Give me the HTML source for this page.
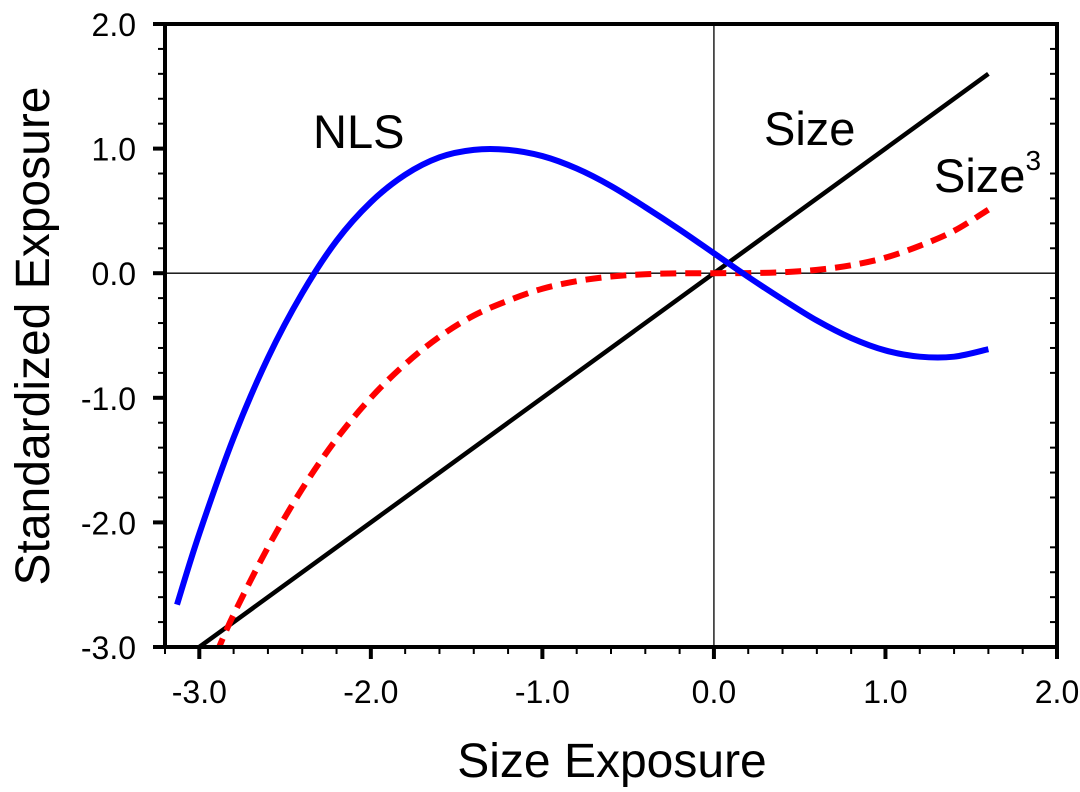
<!DOCTYPE html>
<html><head><meta charset="utf-8"><style>
body{margin:0;background:#fff;}
svg{display:block;font-family:"Liberation Sans",Arial,sans-serif;}
</style></head><body>
<svg id="chart" width="1080" height="792" viewBox="0 0 1080 792">
<defs><clipPath id="clip"><rect x="165" y="24" width="892" height="623"/></clipPath></defs>
<g id="grid"></g>
<g id="series" clip-path="url(#clip)"></g>
<g id="axes"></g>
<text x="612" y="777" font-size="48" text-anchor="middle">Size Exposure</text>
<text transform="translate(49,336) rotate(-90)" font-size="48" text-anchor="middle">Standardized Exposure</text>
<text x="313" y="148" font-size="47">NLS</text>
<text x="764" y="145" font-size="47">Size</text>
<text x="934" y="192" font-size="47">Size<tspan dy="-22" font-size="28">3</tspan></text>
</svg>
<script>
const xTicks=[-3,-2,-1,0,1,2];
const xTickLabels=["-3.0","-2.0","-1.0","0.0","1.0","2.0"];
const yTicks=[-3,-2,-1,0,1,2];
const yTickLabels=["-3.0","-2.0","-1.0","0.0","1.0","2.0"];
const sizeX=[-3.0,1.6];
const sizeY=[-3.0,1.6];
const nlsX=[-3.13,-3.0,-2.8,-2.6,-2.4,-2.2,-2.0,-1.8,-1.6,-1.4,-1.2,-1.0,-0.8,-0.6,-0.4,-0.2,0,0.2,0.4,0.6,0.8,1.0,1.2,1.4,1.6];
const nlsY=[-2.66,-2.09,-1.32,-0.68,-0.16,0.26,0.57,0.79,0.93,0.99,0.99,0.94,0.84,0.70,0.53,0.35,0.16,-0.03,-0.21,-0.38,-0.52,-0.62,-0.67,-0.67,-0.61];
const cubeX=[-2.9,-2.8,-2.6,-2.4,-2.2,-2.0,-1.8,-1.6,-1.4,-1.2,-1.0,-0.8,-0.6,-0.4,-0.2,0,0.2,0.4,0.6,0.8,1.0,1.2,1.4,1.6];
const cubeY=[-3.05,-2.74,-2.20,-1.73,-1.33,-1.0,-0.73,-0.51,-0.34,-0.22,-0.125,-0.064,-0.027,-0.008,-0.001,0,0.001,0.008,0.027,0.064,0.125,0.22,0.34,0.51];
const X0=165,X1=1057,Y0=647,Y1=24,xMin=-3.2,xMax=2.0,yMin=-3,yMax=2;
function sx(v){return X0+(v-xMin)/(xMax-xMin)*(X1-X0);}
function sy(v){return Y0-(v-yMin)/(yMax-yMin)*(Y0-Y1);}
const NS="http://www.w3.org/2000/svg";
function mk(t,a,p){const e=document.createElementNS(NS,t);for(const k in a)e.setAttribute(k,a[k]);p.appendChild(e);return e;}
const grid=document.getElementById('grid'),ser=document.getElementById('series'),ax=document.getElementById('axes');
let g=mk('line',{x1:X0,x2:X1,y1:sy(0),y2:sy(0),stroke:'#000','stroke-width':1.3},grid);


g=mk('line',{x1:sx(0),x2:sx(0),y1:Y0,y2:Y1,stroke:'#000','stroke-width':1.3},grid);


function smooth(xs,ys){const P=xs.map((x,i)=>[sx(x),sy(ys[i])]);let d='M'+P[0][0]+','+P[0][1];
for(let i=0;i<P.length-1;i++){const p0=P[Math.max(0,i-1)],p1=P[i],p2=P[i+1],p3=P[Math.min(P.length-1,i+2)];
d+=' C'+(p1[0]+(p2[0]-p0[0])/6)+','+(p1[1]+(p2[1]-p0[1])/6)+' '+(p2[0]-(p3[0]-p1[0])/6)+','+(p2[1]-(p3[1]-p1[1])/6)+' '+p2[0]+','+p2[1];}return d;}
let s=mk('path',{d:smooth(sizeX,sizeY),fill:'none',stroke:'#000','stroke-width':4.5},ser);


s=mk('path',{d:smooth(cubeX,cubeY),fill:'none',stroke:'#ff0000','stroke-width':6,'stroke-dasharray':'16,9'},ser);


s=mk('path',{d:smooth(nlsX,nlsY),fill:'none',stroke:'#0000ff','stroke-width':6},ser);


let f=mk('rect',{x:X0,y:Y1,width:X1-X0,height:Y0-Y1,fill:'none',stroke:'#000','stroke-width':4},ax);


for(let v=-3.2;v<=2.001;v+=0.2){const x=sx(v);const major=Math.abs(v-Math.round(v))<0.01;
const t=mk('line',{x1:x,x2:x,y1:Y0,y2:Y0+(major?12:7),stroke:'#000','stroke-width':major?4:2},ax);

}
for(let v=-3;v<=2.001;v+=0.2){const y=sy(v);const major=Math.abs(v-Math.round(v))<0.01;
const t=mk('line',{x1:X0,x2:X0-(major?12:7),y1:y,y2:y,stroke:'#000','stroke-width':major?4:2},ax);


const r=mk('line',{x1:X1,x2:X1-(major?0:7),y1:y,y2:y,stroke:'#000','stroke-width':2},ax);

}
xTicks.forEach((v,i)=>{const t=mk('text',{x:sx(v),y:703,'font-size':32,'text-anchor':'middle'},ax);t.textContent=xTickLabels[i];

});
yTicks.forEach((v,i)=>{const t=mk('text',{x:136,y:sy(v)+12,'font-size':32,'text-anchor':'end'},ax);t.textContent=yTickLabels[i];

});
</script>
</body></html>
